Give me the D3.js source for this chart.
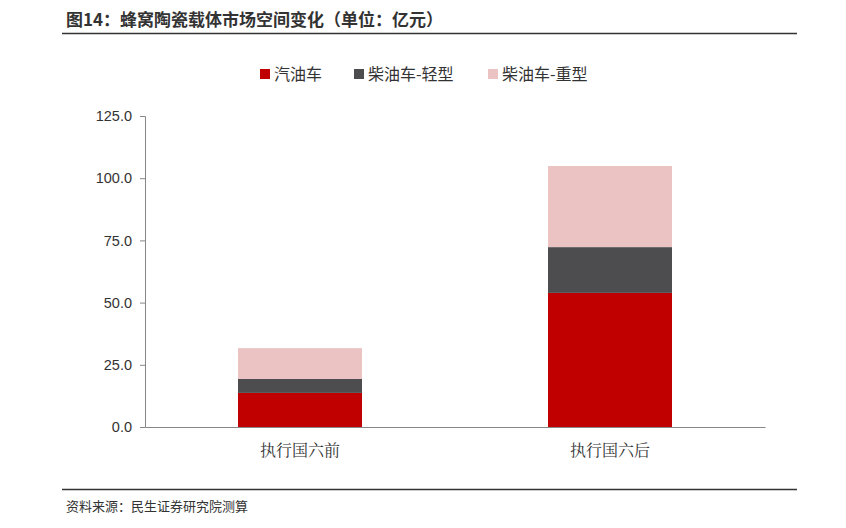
<!DOCTYPE html><html><head><meta charset="utf-8">
<script src="https://cdn.jsdelivr.net/npm/d3@7"></script>
<style>body{margin:0;background:#fff;font-family:"Noto Sans CJK SC",sans-serif}</style></head><body>
<svg id="c" width="846" height="528"></svg>
<script>
const categories=["执行国六前","执行国六后"];
const seriesNames=["汽油车","柴油车-轻型","柴油车-重型"];
const gasoline=[13.7,53.9];
const dieselLight=[5.6,18.4];
const dieselHeavy=[12.4,32.6];
const yTicks=[0,25,50,75,100,125];
const colors=["#C00000","#4D4D4F","#EBC3C3"];
const svg=d3.select("#c");
const f="Noto Sans CJK SC";
svg.append("text").attr("x",66).attr("y",26).attr("font-family",f).attr("font-weight","bold").attr("font-size",17).attr("fill","#333").text("图14：蜂窝陶瓷载体市场空间变化（单位：亿元）");
svg.append("line").attr("x1",62).attr("x2",797).attr("y1",33.5).attr("y2",33.5).attr("stroke","#333").attr("stroke-width",1.5);
svg.append("line").attr("x1",62).attr("x2",797).attr("y1",489.5).attr("y2",489.5).attr("stroke","#333").attr("stroke-width",1.5);
svg.append("text").attr("x",66).attr("y",511).attr("font-family",f).attr("font-size",13).attr("fill","#333").text("资料来源：民生证券研究院测算");
const x=d3.scaleBand().domain(categories).range([145,765]).paddingInner(0.6).paddingOuter(0.3);
const y=d3.scaleLinear().domain([0,125]).range([427,116]);
const data=categories.map((c,i)=>({cat:c,"汽油车":gasoline[i],"柴油车-轻型":dieselLight[i],"柴油车-重型":dieselHeavy[i]}));
const st=d3.stack().keys(seriesNames)(data);
st.forEach((s,k)=>svg.append("g").selectAll("rect").data(s).join("rect").attr("x",d=>x(d.data.cat)).attr("width",x.bandwidth()).attr("y",d=>y(d[1])).attr("height",d=>y(d[0])-y(d[1])).attr("fill",colors[k]));
const ya=svg.append("g").attr("transform","translate(145,0)").call(d3.axisLeft(y).tickValues(yTicks).tickFormat(d3.format(".1f")).tickSize(5).tickPadding(8));
ya.selectAll("text").attr("font-family","Liberation Sans").attr("font-size",14.5).attr("fill","#333");
ya.selectAll("line,path").attr("stroke","#888");
const xa=svg.append("g").attr("transform","translate(0,427)").call(d3.axisBottom(x).tickSize(0).tickPadding(18));
xa.select("path").attr("stroke","#888");
xa.selectAll("text").attr("font-family","Noto Serif CJK SC, serif").attr("font-size",16).attr("fill","#333");
const lx=[260,354,488];
seriesNames.forEach((n,i)=>{svg.append("rect").attr("x",lx[i]).attr("y",69).attr("width",10).attr("height",10).attr("fill",colors[i]);
svg.append("text").attr("x",lx[i]+14).attr("y",80).attr("font-family",f).attr("font-size",16).attr("fill","#333").text(n);});
</script></body></html>
